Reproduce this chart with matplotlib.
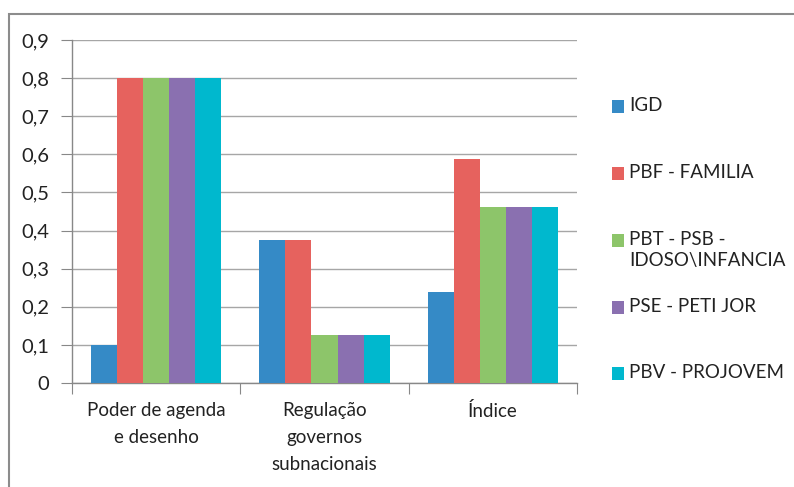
import matplotlib
matplotlib.use("Agg")
import matplotlib.pyplot as plt
from matplotlib.patches import Rectangle
import numpy as np

categories = ["Poder de agenda\ne desenho", "Regulação\ngovernos\nsubnacionais", "Índice"]
series_names = ["IGD", "PBF - FAMILIA", "PBT - PSB -\nIDOSO\\INFANCIA", "PSE - PETI JOR", "PBV - PROJOVEM"]
igd = [0.1, 0.375, 0.2375]
pbf = [0.8, 0.375, 0.5875]
pbt = [0.8, 0.125, 0.4625]
pse = [0.8, 0.125, 0.4625]
pbv = [0.8, 0.125, 0.4625]
values = [igd, pbf, pbt, pse, pbv]
colors = ["#358AC6", "#E6625E", "#8DC56A", "#8A70B0", "#00B8CE"]
yticks = [0.0, 0.1, 0.2, 0.3, 0.4, 0.5, 0.6, 0.7, 0.8, 0.9]

plt.rcParams['font.family'] = ['Lato', 'DejaVu Sans']
W, H = 794, 487
fig = plt.figure(figsize=(W/100, H/100), dpi=100)
left, right, bottom, top = 72, 577, 383, 40
ax = fig.add_axes([left/W, 1 - bottom/H, (right-left)/W, (bottom-top)/H])

fs = 13.5
n = len(values)
bw = 26/168
x = np.arange(len(categories))
for i, (vals, c) in enumerate(zip(values, colors)):
    ax.bar(x + (i - (n-1)/2)*bw, vals, width=bw, color=c, edgecolor='none', zorder=3)

ax.set_xlim(-0.5, len(categories)-0.5)
ax.set_ylim(0, 0.9)
ax.set_yticks(yticks)
ax.set_yticklabels([("%.1f" % v).replace(".", ",") if v != 0 else "0" for v in yticks])
ax.yaxis.grid(True, color="#A6A6A6", linewidth=1.0, zorder=0)
ax.set_xticks(np.arange(-0.5, len(categories)))
ax.set_xticklabels([])
ax.set_xticks(x, minor=True)
ax.set_xticklabels(categories, minor=True, linespacing=1.7)
ax.tick_params(axis='x', which='minor', length=0, pad=14, labelsize=fs, colors='#222222')
ax.tick_params(axis='x', which='major', length=8, color='#888888', direction='out')
ax.tick_params(axis='y', length=8, color='#888888', labelsize=14.5, labelcolor='#222222', pad=8.5)
for s in ['top', 'right']:
    ax.spines[s].set_visible(False)
for s in ['left', 'bottom']:
    ax.spines[s].set_color('#888888')
    ax.spines[s].set_linewidth(1.0)

# legend (manual)
leg_y = [107, 174, 241, 308, 374]
for name, c, yy in zip(series_names, colors, leg_y):
    fig.add_artist(Rectangle((612/W, 1 - (yy+6)/H), 12/W, 13/H, transform=fig.transFigure,
                             facecolor=c, edgecolor='none'))
    fig.text(629/W, 1 - (yy - 10)/H, name, ha='left', va='top', fontsize=fs,
             color='#222222', linespacing=1.3)

# figure border
fig.add_artist(Rectangle((9/W, -0.05), 1.0, 1 - 14/H + 0.05, transform=fig.transFigure,
                         facecolor='none', edgecolor='#8C8C8C', linewidth=1.5))

fig.savefig("out.png", dpi=100)
